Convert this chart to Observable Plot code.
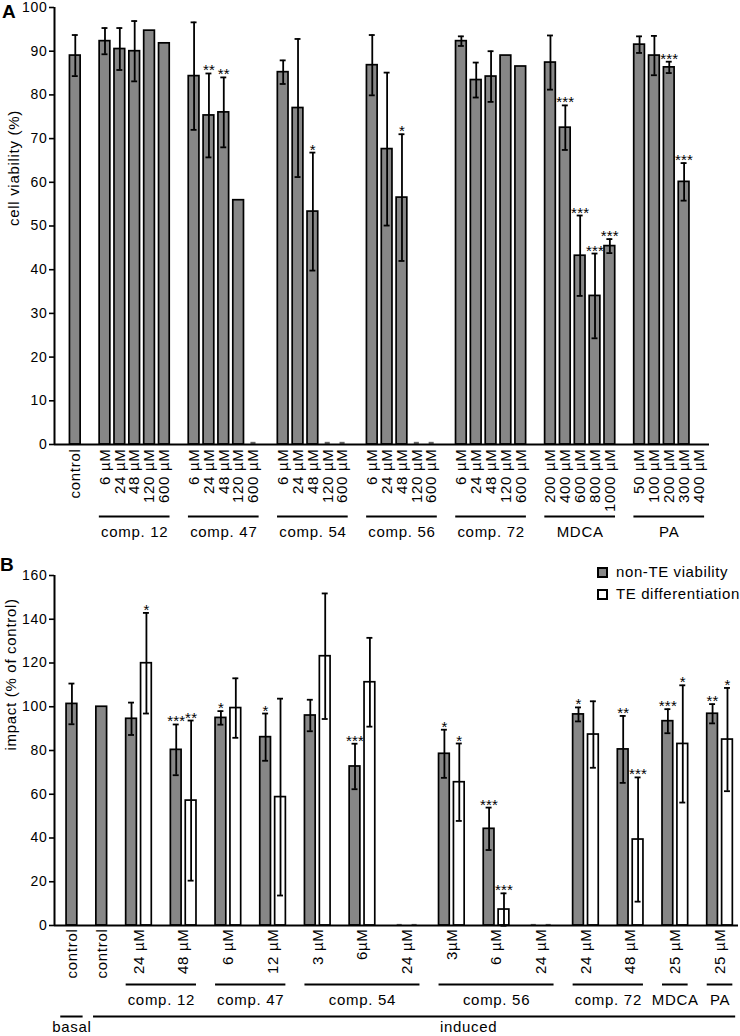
<!DOCTYPE html>
<html><head><meta charset="utf-8">
<script src="https://cdn.jsdelivr.net/npm/d3@7"></script>
<script src="https://cdn.jsdelivr.net/npm/@observablehq/plot@0.6"></script>
<style>
body{margin:0;background:#fff;font-family:"Liberation Sans",Arial,Helvetica,sans-serif;}
#wrap{position:relative;width:740px;height:1036px;overflow:hidden;}
#wrap svg{display:block;overflow:visible;}
#wrap svg text{letter-spacing:0.7px;}
#wrap svg text.star{letter-spacing:0.2px;}
.letter{position:absolute;font-weight:bold;font-size:19px;line-height:19px;}
.sw{position:absolute;width:11px;height:11px;box-sizing:border-box;border:2px solid #000;}
.lt{position:absolute;font-size:15px;line-height:15px;letter-spacing:0.6px;white-space:nowrap;}
</style></head><body><div id="wrap"></div>
<script>
// ---------- Panel A data ----------
const aControlLabel = "control";
const aControlMean = 89;
const aControlErr = 4.7;
const aGroups = ["comp. 12","comp. 47","comp. 54","comp. 56","comp. 72","MDCA","PA"];
const aDoses = [
  ["6 µM","24 µM","48 µM","120 µM","600 µM"],
  ["6 µM","24 µM","48 µM","120 µM","600 µM"],
  ["6 µM","24 µM","48 µM","120 µM","600 µM"],
  ["6 µM","24 µM","48 µM","120 µM","600 µM"],
  ["6 µM","24 µM","48 µM","120 µM","600 µM"],
  ["200 µM","400 µM","600 µM","800 µM","1000 µM"],
  ["50 µM","100 µM","200 µM","300 µM","400 µM"]
];
const aMeans = [
  [92.3,90.5,90.0,94.7,91.8],
  [84.3,75.3,76.0,55.9,0.5],
  [85.2,77.0,53.3,0.5,0.5],
  [86.8,67.6,56.5,0.5,0.5],
  [92.3,83.4,84.2,89.0,86.5],
  [87.4,72.5,43.2,34.0,45.4],
  [91.5,89.0,86.3,60.1,null]
];
const aErrors = [
  [3.0,4.8,6.9,null,null],
  [12.3,9.6,8.0,null,null],
  [2.7,15.8,13.5,null,null],
  [6.9,17.5,14.5,null,null],
  [1.1,4.0,5.8,null,null],
  [6.2,5.1,9.2,9.7,1.6],
  [1.9,4.5,1.3,4.3,null]
];
const aStars = [
  ["","","","",""],
  ["","**","**","",""],
  ["","","*","",""],
  ["","","*","",""],
  ["","","","",""],
  ["","***","***","***","***"],
  ["","","***","***",""]
];
const aTicks = [0,10,20,30,40,50,60,70,80,90,100];

// ---------- Panel B data ----------
const bControlLabels = ["control","control"];
const bControlLevels = ["basal","induced"];
const bControlMeans = [101.3,100];
const bControlErrs = [9.3,null];
const bGroups = ["comp. 12","comp. 47","comp. 54","comp. 56","comp. 72","MDCA","PA"];
const bDoses = [
  ["24 µM","48 µM"],
  ["6 µM","12 µM"],
  ["3 µM","6µM","24 µM"],
  ["3µM","6 µM","24 µM"],
  ["24 µM","48 µM"],
  ["25 µM"],
  ["25 µM"]
];
const bViability = [[94.5,80.3],[94.9,86.1],[96.0,72.7,0.5],[78.5,44.2,0.5],[96.5,80.5],[93.4],[96.8]];
const bViabilityErr = [[7.4,11.6],[3.1,10.8],[7.2,10.4,null],[11.0,9.7,null],[3.2,15.3],[5.5],[4.4]];
const bViabilityStars = [["","***"],["*","*"],["","***",""],["*","***",""],["*","**"],["***"],["**"]];
const bDiff = [[119.9,57.1],[99.4,58.7],[123.1,111.2,0.5],[65.5,7.3,0.5],[87.3,39.3],[83.0],[85.0]];
const bDiffErr = [[23.0,36.6],[13.6,45.0],[28.7,20.3,null],[17.7,7.4,null],[15.2,28.4],[26.8],[23.6]];
const bDiffStars = [["*","**"],["",""],["","",""],["*","***",""],["","***"],["*"],["*"]];
const bTicks = [0,20,40,60,80,100,120,140,160];
const seriesNames = ["non-TE viability","TE differentiation"];
const seriesFills = ["#878787","#ffffff"];

// ---------- shared style ----------
const FONT = '"Liberation Sans", Arial, Helvetica, sans-serif';
const BAR_HALF = 0.36, CAP_HALF = 0.2, STUB_HALF = 0.17, STUB_MAX = 1;

// ---------- Panel A layout (slots) ----------
const rowsA = [];
const groupsA = [];
rowsA.push({slot:0, label:aControlLabel, v:aControlMean, e:aControlErr, star:""});
let s = 2;
aGroups.forEach((g, gi) => {
  const start = s;
  aDoses[gi].forEach((d, di) => {
    rowsA.push({slot:s, label:d, v:aMeans[gi][di], e:aErrors[gi][di], star:aStars[gi][di]});
    s++;
  });
  groupsA.push({name:g, x1:start, x2:s-1});
  s++;
});
const labelA = new Map(rowsA.map(d => [d.slot, d.label]));
const xDomA = [-1.4, 42.71];

function barMarks(rows, fillOf) {
  return [
    Plot.rectY(rows.filter(d => d.v != null && d.v >= STUB_MAX), {
      x1: d => d.slot - BAR_HALF, x2: d => d.slot + BAR_HALF, y1: 0, y2: "v",
      fill: fillOf, stroke: "#000", strokeWidth: 1.7
    }),
    Plot.rectY(rows.filter(d => d.v != null && d.v < STUB_MAX), {
      x1: d => d.slot - STUB_HALF, x2: d => d.slot + STUB_HALF, y1: 0, y2: "v",
      fill: "#666"
    }),
    Plot.ruleX(rows.filter(d => d.e != null), {x: "slot", y1: d => d.v - d.e, y2: d => d.v + d.e, stroke: "#000", strokeWidth: 1.8}),
    Plot.ruleY(rows.filter(d => d.e != null), {y: d => d.v + d.e, x1: d => d.slot - CAP_HALF, x2: d => d.slot + CAP_HALF, stroke: "#000", strokeWidth: 1.8}),
    Plot.ruleY(rows.filter(d => d.e != null), {y: d => d.v - d.e, x1: d => d.slot - CAP_HALF, x2: d => d.slot + CAP_HALF, stroke: "#000", strokeWidth: 1.8}),
    Plot.text(rows.filter(d => d.star), {x: "slot", y: d => d.v + (d.e || 0), text: "star", lineAnchor: "bottom", dy: 2, fontSize: 15, fill: "#000", opacity: 0.99})
  ];
}

const plotA = Plot.plot({
  width: 740, height: 545,
  marginTop: 7, marginBottom: 101, marginLeft: 54, marginRight: 31,
  style: {fontFamily: FONT, fontSize: "15px", color: "#000", background: "#fff", overflow: "visible"},
  x: {type: "linear", domain: xDomA},
  y: {domain: [0, 100]},
  marks: [
    ...barMarks(rowsA, seriesFills[0]),
    Plot.ruleX([xDomA[0]], {y1: 0, y2: 100, stroke: "#000", strokeWidth: 2}),
    Plot.ruleY([0], {stroke: "#000", strokeWidth: 2}),
    Plot.axisY({ticks: aTicks, tickSize: 5, tickPadding: 2, fontSize: 14, label: null, strokeWidth: 1.6}),
    Plot.axisX({ticks: rowsA.map(d => d.slot), tickFormat: d => labelA.get(d), tickRotate: -90, tickSize: 0, tickPadding: 4, fontSize: 15, label: null}),
    Plot.ruleY(groupsA, {y: 0, x1: d => d.x1 - 0.38, x2: d => d.x2 + 0.38, dy: 72, stroke: "#000", strokeWidth: 2}),
    Plot.text(groupsA, {x: d => (d.x1 + d.x2) / 2, y: 0, dy: 88, text: "name", fontSize: 15, fill: "#000"}),
    Plot.text(["cell viability (%)"], {frameAnchor: "left", rotate: -90, text: d => d, dx: -40, fontSize: 15, fill: "#000"})
  ]
});

// ---------- Panel B layout ----------
const rowsB = [];
const groupsB = [];
const levelsB = [];
const labelB = new Map();
rowsB.push({slot:0, v:bControlMeans[0], e:bControlErrs[0], star:"", series:0});
labelB.set(0, bControlLabels[0]);
levelsB.push({name:bControlLevels[0], x1:0, x2:0, pad:0.75});
rowsB.push({slot:2, v:bControlMeans[1], e:bControlErrs[1], star:"", series:0});
labelB.set(2, bControlLabels[1]);
let t = 4;
bGroups.forEach((g, gi) => {
  const start = t;
  bDoses[gi].forEach((d, di) => {
    rowsB.push({slot:t, v:bViability[gi][di], e:bViabilityErr[gi][di], star:bViabilityStars[gi][di], series:0});
    rowsB.push({slot:t+1, v:bDiff[gi][di], e:bDiffErr[gi][di], star:bDiffStars[gi][di], series:1});
    labelB.set(t + 0.5, d);
    t += 3;
  });
  groupsB.push({name:g, x1:start, x2:t-2});
});
levelsB.push({name:bControlLevels[1], x1:2, x2:t-2, pad:0.55});
const xDomB = [-1.17, 44.74];

const plotB = Plot.plot({
  width: 740, height: 491,
  marginTop: 30, marginBottom: 111, marginLeft: 54, marginRight: 2,
  style: {fontFamily: FONT, fontSize: "15px", color: "#000", background: "#fff", overflow: "visible"},
  x: {type: "linear", domain: xDomB},
  y: {domain: [0, 160]},
  marks: [
    ...barMarks(rowsB.filter(d => d.series === 0), seriesFills[0]),
    ...barMarks(rowsB.filter(d => d.series === 1), seriesFills[1]),
    Plot.ruleX([xDomB[0]], {y1: 0, y2: 160, stroke: "#000", strokeWidth: 2}),
    Plot.ruleY([0], {stroke: "#000", strokeWidth: 2}),
    Plot.axisY({ticks: bTicks, tickSize: 5, tickPadding: 2, fontSize: 14, label: null, strokeWidth: 1.6}),
    Plot.axisX({ticks: [...labelB.keys()], tickFormat: d => labelB.get(d), tickRotate: -90, tickSize: 0, tickPadding: 3, fontSize: 15, label: null}),
    Plot.ruleY(groupsB, {y: 0, x1: d => d.x1 - 0.36, x2: d => d.x2 + 0.36, dy: 59, stroke: "#000", strokeWidth: 2}),
    Plot.text(groupsB, {x: d => (d.x1 + d.x2) / 2, y: 0, dy: 75, text: "name", fontSize: 15, fill: "#000"}),
    Plot.ruleY(levelsB, {y: 0, x1: d => d.x1 - d.pad, x2: d => d.x2 + d.pad, dy: 91, stroke: "#000", strokeWidth: 2}),
    Plot.text(levelsB, {x: d => (d.x1 + d.x2) / 2, y: 0, dy: 102, text: "name", fontSize: 15, fill: "#000"}),
    Plot.text(["impact (% of control)"], {frameAnchor: "left", rotate: -90, text: d => d, dx: -43, fontSize: 15, fill: "#000"})
  ]
});

const wrap = document.getElementById("wrap");
wrap.appendChild(plotA);
wrap.appendChild(plotB);

// significance asterisks are set with tighter letter spacing
[plotA, plotB].forEach(p => p.querySelectorAll("text").forEach(el => {
  if (/^\*+$/.test(el.textContent)) el.classList.add("star");
}));

// the "induced" label sits right of its line's centre in the original figure
plotB.querySelectorAll("text").forEach(el => {
  if (el.textContent === bControlLevels[1]) {
    const tr = el.getAttribute("transform") || "";
    el.setAttribute("transform", tr + " translate(54,0)");
  }
});

// panel letters
const la = document.createElement("div"); la.className = "letter"; la.textContent = "A";
la.style.left = "2px"; la.style.top = "2px"; wrap.appendChild(la);
const lb = document.createElement("div"); lb.className = "letter"; lb.textContent = "B";
lb.style.left = "0px"; lb.style.top = "555px"; wrap.appendChild(lb);

// legend
seriesNames.forEach((n, i) => {
  const sw = document.createElement("div"); sw.className = "sw";
  sw.style.left = "597px"; sw.style.top = (567 + 22 * i) + "px"; sw.style.background = seriesFills[i];
  wrap.appendChild(sw);
  const tx = document.createElement("div"); tx.className = "lt"; tx.textContent = n;
  tx.style.left = "616px"; tx.style.top = (564 + 22 * i) + "px";
  wrap.appendChild(tx);
});
</script></body></html>
